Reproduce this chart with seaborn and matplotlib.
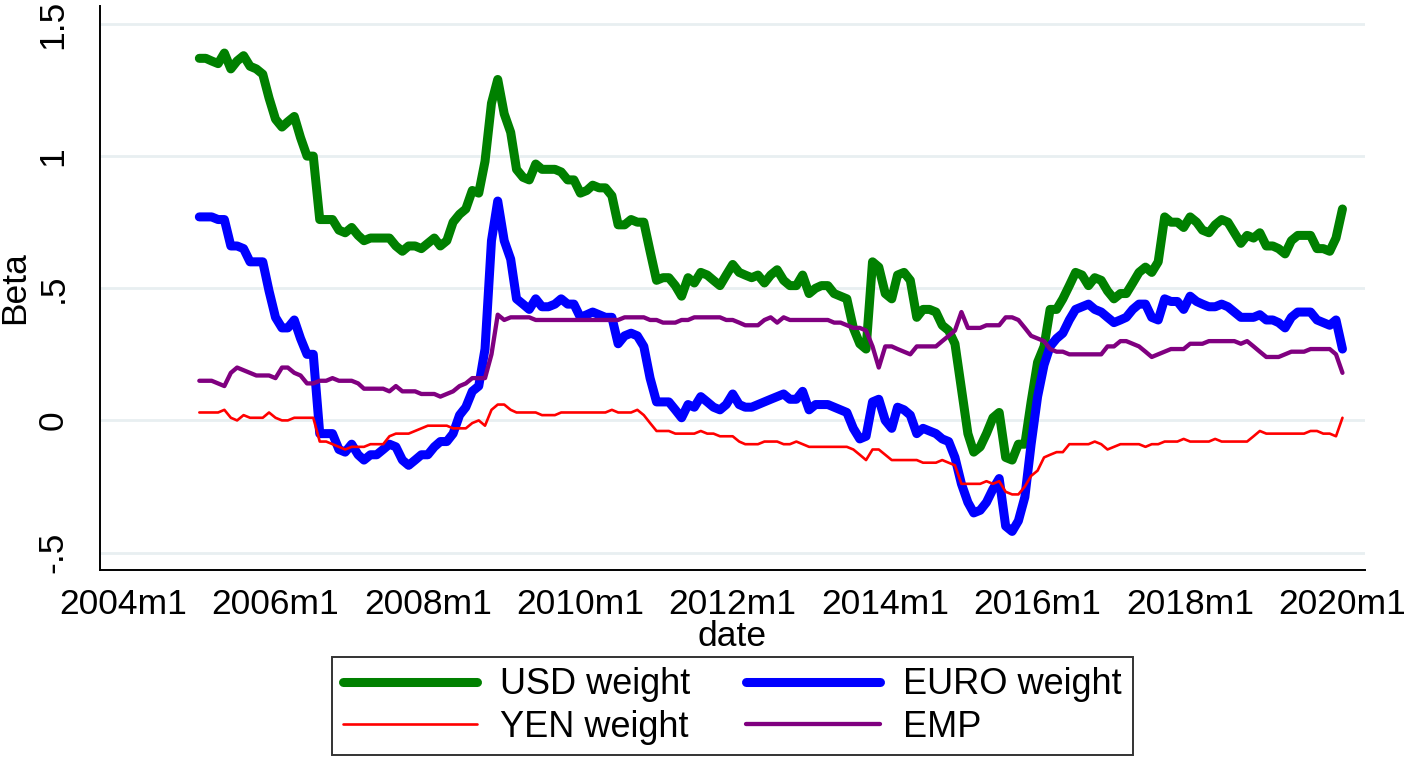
"""Monthly currency-weight betas (USD, EURO, YEN) and EMP, drawn like the Stata original."""
import matplotlib
matplotlib.use("Agg")  # no display in the sandbox
import matplotlib.pyplot as plt
import pandas as pd
import seaborn as sns

START_MONTH = "2005-01-01"

usd_weight = [
    1.37, 1.37, 1.36, 1.35, 1.39, 1.33, 1.36, 1.38, 1.34, 1.33,
    1.31, 1.22, 1.14, 1.11, 1.13, 1.15, 1.07, 1.00, 1.00, 0.76,
    0.76, 0.76, 0.72, 0.71, 0.73, 0.70, 0.68, 0.69, 0.69, 0.69,
    0.69, 0.66, 0.64, 0.66, 0.66, 0.65, 0.67, 0.69, 0.66, 0.68,
    0.75, 0.78, 0.80, 0.87, 0.86, 0.98, 1.20, 1.29, 1.16, 1.09,
    0.95, 0.92, 0.91, 0.97, 0.95, 0.95, 0.95, 0.94, 0.91, 0.91,
    0.86, 0.87, 0.89, 0.88, 0.88, 0.85, 0.74, 0.74, 0.76, 0.75,
    0.75, 0.64, 0.53, 0.54, 0.54, 0.51, 0.47, 0.54, 0.52, 0.56,
    0.55, 0.53, 0.51, 0.55, 0.59, 0.56, 0.55, 0.54, 0.55, 0.52,
    0.55, 0.57, 0.53, 0.51, 0.51, 0.55, 0.48, 0.50, 0.51, 0.51,
    0.48, 0.47, 0.46, 0.35, 0.29, 0.27, 0.60, 0.58, 0.48, 0.46,
    0.55, 0.56, 0.53, 0.39, 0.42, 0.42, 0.41, 0.36, 0.34, 0.29,
    0.12, -0.05, -0.12, -0.10, -0.05, 0.01, 0.03, -0.14, -0.15, -0.09,
    -0.09, 0.07, 0.22, 0.28, 0.42, 0.42, 0.46, 0.51, 0.56, 0.55,
    0.51, 0.54, 0.53, 0.49, 0.46, 0.48, 0.48, 0.52, 0.56, 0.58,
    0.56, 0.60, 0.77, 0.75, 0.75, 0.73, 0.77, 0.75, 0.72, 0.71,
    0.74, 0.76, 0.75, 0.71, 0.67, 0.70, 0.69, 0.71, 0.66, 0.66,
    0.65, 0.63, 0.68, 0.70, 0.70, 0.70, 0.65, 0.65, 0.64, 0.69,
    0.80,
]
euro_weight = [
    0.77, 0.77, 0.77, 0.76, 0.76, 0.66, 0.66, 0.65, 0.60, 0.60,
    0.60, 0.49, 0.39, 0.35, 0.35, 0.38, 0.31, 0.25, 0.25, -0.05,
    -0.05, -0.05, -0.11, -0.12, -0.09, -0.13, -0.15, -0.13, -0.13, -0.11,
    -0.09, -0.10, -0.15, -0.17, -0.15, -0.13, -0.13, -0.10, -0.08, -0.08,
    -0.05, 0.02, 0.05, 0.11, 0.13, 0.27, 0.68, 0.83, 0.68, 0.61,
    0.46, 0.44, 0.42, 0.46, 0.43, 0.43, 0.44, 0.46, 0.44, 0.44,
    0.39, 0.40, 0.41, 0.40, 0.39, 0.39, 0.29, 0.32, 0.33, 0.32,
    0.28, 0.16, 0.07, 0.07, 0.07, 0.04, 0.01, 0.06, 0.05, 0.09,
    0.07, 0.05, 0.04, 0.06, 0.10, 0.06, 0.05, 0.05, 0.06, 0.07,
    0.08, 0.09, 0.10, 0.08, 0.08, 0.11, 0.04, 0.06, 0.06, 0.06,
    0.05, 0.04, 0.03, -0.03, -0.07, -0.06, 0.07, 0.08, 0.00, -0.03,
    0.05, 0.04, 0.02, -0.05, -0.03, -0.04, -0.05, -0.07, -0.08, -0.14,
    -0.24, -0.31, -0.35, -0.34, -0.31, -0.26, -0.22, -0.40, -0.42, -0.38,
    -0.29, -0.09, 0.09, 0.21, 0.28, 0.31, 0.33, 0.38, 0.42, 0.43,
    0.44, 0.42, 0.41, 0.39, 0.37, 0.38, 0.39, 0.42, 0.44, 0.44,
    0.39, 0.38, 0.46, 0.45, 0.45, 0.42, 0.47, 0.45, 0.44, 0.43,
    0.43, 0.44, 0.43, 0.41, 0.39, 0.39, 0.39, 0.40, 0.38, 0.38,
    0.37, 0.35, 0.39, 0.41, 0.41, 0.41, 0.38, 0.37, 0.36, 0.38,
    0.27,
]
yen_weight = [
    0.03, 0.03, 0.03, 0.03, 0.04, 0.01, 0.00, 0.02, 0.01, 0.01,
    0.01, 0.03, 0.01, 0.00, 0.00, 0.01, 0.01, 0.01, 0.01, -0.08,
    -0.08, -0.09, -0.10, -0.11, -0.10, -0.10, -0.10, -0.09, -0.09, -0.09,
    -0.06, -0.05, -0.05, -0.05, -0.04, -0.03, -0.02, -0.02, -0.02, -0.02,
    -0.03, -0.03, -0.03, -0.01, 0.00, -0.02, 0.04, 0.06, 0.06, 0.04,
    0.03, 0.03, 0.03, 0.03, 0.02, 0.02, 0.02, 0.03, 0.03, 0.03,
    0.03, 0.03, 0.03, 0.03, 0.03, 0.04, 0.03, 0.03, 0.03, 0.04,
    0.02, -0.01, -0.04, -0.04, -0.04, -0.05, -0.05, -0.05, -0.05, -0.04,
    -0.05, -0.05, -0.06, -0.06, -0.06, -0.08, -0.09, -0.09, -0.09, -0.08,
    -0.08, -0.08, -0.09, -0.09, -0.08, -0.09, -0.10, -0.10, -0.10, -0.10,
    -0.10, -0.10, -0.10, -0.11, -0.13, -0.15, -0.11, -0.11, -0.13, -0.15,
    -0.15, -0.15, -0.15, -0.15, -0.16, -0.16, -0.16, -0.15, -0.16, -0.17,
    -0.24, -0.24, -0.24, -0.24, -0.23, -0.24, -0.23, -0.27, -0.28, -0.28,
    -0.25, -0.21, -0.19, -0.14, -0.13, -0.12, -0.12, -0.09, -0.09, -0.09,
    -0.09, -0.08, -0.09, -0.11, -0.10, -0.09, -0.09, -0.09, -0.09, -0.10,
    -0.09, -0.09, -0.08, -0.08, -0.08, -0.07, -0.08, -0.08, -0.08, -0.08,
    -0.07, -0.08, -0.08, -0.08, -0.08, -0.08, -0.06, -0.04, -0.05, -0.05,
    -0.05, -0.05, -0.05, -0.05, -0.05, -0.04, -0.04, -0.05, -0.05, -0.06,
    0.01,
]
emp = [
    0.15, 0.15, 0.15, 0.14, 0.13, 0.18, 0.20, 0.19, 0.18, 0.17,
    0.17, 0.17, 0.16, 0.20, 0.20, 0.18, 0.17, 0.14, 0.14, 0.15,
    0.15, 0.16, 0.15, 0.15, 0.15, 0.14, 0.12, 0.12, 0.12, 0.12,
    0.11, 0.13, 0.11, 0.11, 0.11, 0.10, 0.10, 0.10, 0.09, 0.10,
    0.11, 0.13, 0.14, 0.16, 0.16, 0.16, 0.25, 0.40, 0.38, 0.39,
    0.39, 0.39, 0.39, 0.38, 0.38, 0.38, 0.38, 0.38, 0.38, 0.38,
    0.38, 0.38, 0.38, 0.38, 0.38, 0.38, 0.38, 0.39, 0.39, 0.39,
    0.39, 0.38, 0.38, 0.37, 0.37, 0.37, 0.38, 0.38, 0.39, 0.39,
    0.39, 0.39, 0.39, 0.38, 0.38, 0.37, 0.36, 0.36, 0.36, 0.38,
    0.39, 0.37, 0.39, 0.38, 0.38, 0.38, 0.38, 0.38, 0.38, 0.38,
    0.37, 0.37, 0.36, 0.35, 0.35, 0.34, 0.28, 0.20, 0.28, 0.28,
    0.27, 0.26, 0.25, 0.28, 0.28, 0.28, 0.28, 0.30, 0.32, 0.34,
    0.41, 0.35, 0.35, 0.35, 0.36, 0.36, 0.36, 0.39, 0.39, 0.38,
    0.35, 0.32, 0.31, 0.30, 0.27, 0.26, 0.26, 0.25, 0.25, 0.25,
    0.25, 0.25, 0.25, 0.28, 0.28, 0.30, 0.30, 0.29, 0.28, 0.26,
    0.24, 0.25, 0.26, 0.27, 0.27, 0.27, 0.29, 0.29, 0.29, 0.30,
    0.30, 0.30, 0.30, 0.30, 0.29, 0.30, 0.28, 0.26, 0.24, 0.24,
    0.24, 0.25, 0.26, 0.26, 0.26, 0.27, 0.27, 0.27, 0.27, 0.25,
    0.18,
]

series_labels = ["USD weight", "EURO weight", "YEN weight", "EMP"]
tick_years = [2004, 2006, 2008, 2010, 2012, 2014, 2016, 2018, 2020]
y_ticks = [-0.5, 0, 0.5, 1, 1.5]
y_tick_labels = ["-.5", "0", ".5", "1", "1.5"]

# colour and line width per series (Stata green/blue/red/purple)
STYLE = {
    "USD weight": ("#008000", 6.5),
    "EURO weight": ("#0000FF", 6.5),
    "YEN weight": ("#FF0000", 1.9),
    "EMP": ("#800080", 3.1),
}
FONT_SIZE = 25.5
LEGEND_SIZE = 26


def build_frame() -> pd.DataFrame:
    months = pd.date_range(START_MONTH, periods=len(usd_weight), freq="MS")
    wide = pd.DataFrame({"date": months, "USD weight": usd_weight, "EURO weight": euro_weight,
                         "YEN weight": yen_weight, "EMP": emp})
    return wide.melt(id_vars="date", var_name="series", value_name="beta")


def main() -> None:
    sns.set_theme(style="white")
    plt.rcParams["font.family"] = ["Liberation Sans", "DejaVu Sans"]
    plt.rcParams["text.color"] = "black"
    plt.rcParams["axes.labelcolor"] = "black"
    data = build_frame()

    fig = plt.figure(figsize=(14.04, 7.6), dpi=100)
    ax = fig.add_axes([100 / 1404, 1 - 570 / 760, 1265 / 1404, 564 / 760])
    handles = {}
    for name in series_labels:
        color, width = STYLE[name]
        subset = data[data["series"] == name]
        sns.lineplot(data=subset, x="date", y="beta", color=color, linewidth=width, ax=ax, label=name,
                     legend=False, zorder=3)
        handles[name] = ax.lines[-1]

    ax.set_ylim(-0.566, 1.568)
    ax.set_xlim(pd.Timestamp("2003-09-13"), pd.Timestamp("2020-04-18"))
    ax.set_yticks(y_ticks)
    ax.set_yticklabels(y_tick_labels, rotation=90, va="center")
    ax.set_xticks([pd.Timestamp(f"{year}-01-01") for year in tick_years])
    ax.set_xticklabels([f"{year}m1" for year in tick_years])
    ax.tick_params(axis="y", length=10, width=1.2, pad=12, labelsize=FONT_SIZE, colors="black")
    ax.tick_params(axis="x", length=8, width=1.2, pad=5, labelsize=FONT_SIZE, colors="black")
    ax.grid(axis="y", color="#E8EFF1", linewidth=2.0, zorder=0)
    ax.grid(axis="x", visible=False)
    for side in ("top", "right"):
        ax.spines[side].set_visible(False)
    for side in ("left", "bottom"):
        ax.spines[side].set_color("black")
        ax.spines[side].set_linewidth(1.4)
    ax.set_xlabel("date", fontsize=FONT_SIZE, labelpad=-1)
    ax.set_ylabel("Beta", fontsize=FONT_SIZE, labelpad=4)

    order = ["USD weight", "YEN weight", "EURO weight", "EMP"]
    legend = fig.legend([handles[n] for n in order], order, loc="center", bbox_to_anchor=(732.5 / 1404, 1 - 706 / 760),
                        ncol=2, fontsize=LEGEND_SIZE, frameon=True, fancybox=False, handlelength=3.7,
                        handletextpad=0.65, columnspacing=1.55, labelspacing=0.2, borderpad=0.3)
    legend.get_frame().set_edgecolor("black")
    legend.get_frame().set_linewidth(1.4)

    fig.savefig("out.png", dpi=100, facecolor="white")
    plt.close(fig)


if __name__ == "__main__":
    main()
